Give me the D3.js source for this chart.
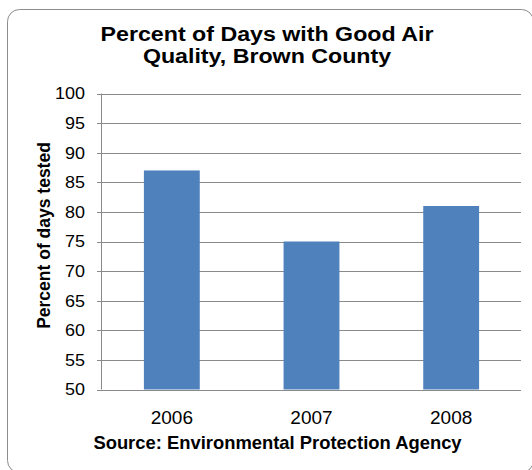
<!DOCTYPE html>
<html><head><meta charset="utf-8">
<script src="https://cdn.jsdelivr.net/npm/d3@7"></script>
<style>body{margin:0;background:#fff}svg{display:block}</style>
</head><body>
<svg id="c" width="532" height="470"></svg>
<script>
const categories = ["2006", "2007", "2008"];
const values = [87, 75, 81];
const yTicks = [50, 55, 60, 65, 70, 75, 80, 85, 90, 95, 100];
const titleLines = ["Percent of Days with Good Air", "Quality, Brown County"];
const yAxisTitle = "Percent of days tested";
const sourceText = "Source: Environmental Protection Agency";

const svg = d3.select("#c");
const font = "Liberation Sans, Arial, sans-serif";
const m = {left: 102, right: 521, top: 93.5, bottom: 389.5};

svg.append("rect").attr("x", 7.5).attr("y", 9.5).attr("width", 526).attr("height", 463)
  .attr("rx", 12).attr("fill", "#fff").attr("stroke", "#8c8c8c").attr("stroke-width", 1);

const x = d3.scaleBand().domain(categories).range([m.left, m.right]).paddingInner(0.6).paddingOuter(0.3);
const y = d3.scaleLinear().domain([50, 100]).range([m.bottom, m.top]);

// gridlines
svg.append("g").selectAll("line").data(yTicks).join("line")
  .attr("x1", m.left - 5).attr("x2", m.right)
  .attr("y1", d => Math.round(y(d)) + 0.5).attr("y2", d => Math.round(y(d)) + 0.5)
  .attr("stroke", "#8a8a8a").attr("stroke-width", 1);

// bars
svg.append("g").selectAll("rect").data(values).join("rect")
  .attr("x", (d, i) => x(categories[i])).attr("width", x.bandwidth())
  .attr("y", d => y(d)).attr("height", d => y(50) - y(d))
  .attr("fill", "#4f81bd");

// y axis line
svg.append("line").attr("x1", m.left - 0.5).attr("x2", m.left - 0.5)
  .attr("y1", m.top).attr("y2", m.bottom).attr("stroke", "#8a8a8a");

// y tick labels
svg.append("g").selectAll("text").data(yTicks).join("text")
  .attr("transform", d => `translate(85,${y(d)}) scale(1.09,1)`).attr("dy", "0.36em")
  .attr("text-anchor", "end").attr("font-family", font).attr("font-size", 16.5)
  .attr("fill", "#000").text(d => d);

// x labels
svg.append("g").selectAll("text").data(categories).join("text")
  .attr("x", d => x(d) + x.bandwidth() / 2).attr("y", 424)
  .attr("text-anchor", "middle").attr("font-family", font).attr("font-size", 19)
  .attr("fill", "#000").text(d => d);

// title
svg.append("g").selectAll("text").data(titleLines).join("text")
  .attr("transform", (d, i) => `translate(267,${41 + i * 22}) scale(1.19,1)`)
  .attr("text-anchor", "middle").attr("font-family", font).attr("font-size", 19.5)
  .attr("font-weight", "bold").attr("fill", "#000").text(d => d);

// y axis title
svg.append("text").attr("transform", "translate(50,235.5) rotate(-90)")
  .attr("text-anchor", "middle").attr("font-family", font).attr("font-size", 17.5)
  .attr("font-weight", "bold").attr("fill", "#000").text(yAxisTitle);

// source
svg.append("text").attr("x", 277.5).attr("y", 449)
  .attr("text-anchor", "middle").attr("font-family", font).attr("font-size", 18.4)
  .attr("font-weight", "bold").attr("fill", "#000").text(sourceText);
</script>
</body></html>
